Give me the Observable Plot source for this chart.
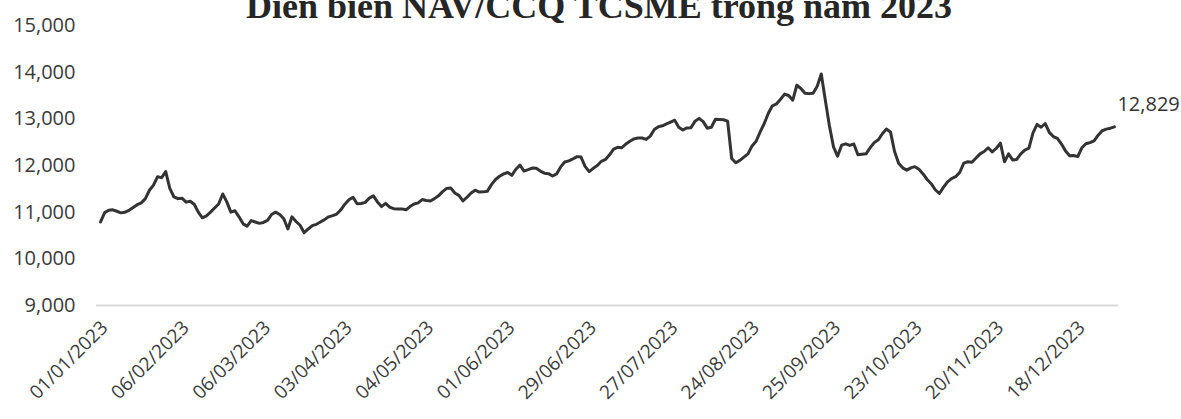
<!DOCTYPE html>
<html>
<head>
<meta charset="utf-8">
<script src="https://cdn.jsdelivr.net/npm/d3@7"></script>
<script src="https://cdn.jsdelivr.net/npm/@observablehq/plot@0.6"></script>
<style>
  body { margin: 0; background: #fff; }
  #wrap { position: relative; width: 1181px; height: 419px; overflow: hidden; background: #fff; }
  #title {
    position: absolute; left: 0; top: -12px; width: 1198px; text-align: center;
    font-family: "Liberation Serif", "Times New Roman", serif; font-weight: bold;
    font-size: 36px; line-height: 36px; color: #262626; white-space: nowrap; z-index: 2;
  }
  #chart { position: absolute; left: 0; top: 0; }
</style>
</head>
<body>
<div id="wrap">
  <div id="chart"></div>
  <div id="title">Diễn biến NAV/CCQ TCSME trong năm 2023</div>
</div>
<script>
// NAV per fund unit, one value per trading session of 2023
const navValues = [
  10790, 10990, 11040, 11050, 11020, 10985, 11000, 11040, 11100, 11160,
  11200, 11290, 11470, 11580, 11760, 11740, 11870, 11510, 11330, 11290,
  11300, 11215, 11235, 11170, 11000, 10880, 10920, 11000, 11090, 11175,
  11390, 11220, 11000, 11030, 10900, 10750, 10700, 10820, 10790, 10760,
  10780, 10825, 10950, 11000, 10950, 10860, 10640, 10900, 10800, 10720,
  10560, 10640, 10710, 10740, 10790, 10840, 10900, 10925, 10960, 11050,
  11170, 11265, 11320, 11180, 11185, 11210, 11300, 11350, 11220, 11120,
  11190, 11110, 11075, 11070, 11070, 11050, 11120, 11175, 11200, 11270,
  11250, 11240, 11290, 11350, 11440, 11510, 11520, 11410, 11360, 11240,
  11320, 11410, 11470, 11430, 11435, 11450, 11590, 11700, 11770, 11820,
  11850, 11790, 11920, 12010, 11880, 11910, 11945, 11940, 11880, 11835,
  11825, 11775, 11820, 11970, 12075, 12100, 12140, 12190, 12180, 11980,
  11870, 11940, 12000, 12090, 12130, 12230, 12350, 12390, 12380, 12460,
  12520, 12570, 12590, 12590, 12560, 12630, 12770, 12830, 12850, 12890,
  12930, 12970, 12820, 12760, 12805, 12810, 12950, 13010, 12940, 12800,
  12820, 12990, 12985, 12980, 12950, 12150, 12060, 12110, 12180, 12250,
  12420, 12520, 12720, 12900, 13120, 13280, 13320, 13420, 13530, 13500,
  13400, 13720, 13650, 13550, 13540, 13550, 13700, 13960, 13400, 12850,
  12400, 12200, 12435, 12465, 12430, 12460, 12230, 12240, 12250, 12380,
  12490, 12550, 12680, 12780, 12720, 12300, 12050, 11950, 11900, 11950,
  11975, 11920, 11820, 11700, 11610, 11480, 11400, 11530, 11650, 11720,
  11760, 11850, 12050, 12080, 12070, 12160, 12250, 12300, 12380, 12290,
  12370, 12480, 12080, 12250, 12120, 12130, 12250, 12330, 12370, 12700,
  12880, 12820, 12900, 12710, 12620, 12580, 12460, 12310, 12210, 12215,
  12190, 12380, 12465, 12490, 12530, 12650, 12745, 12780, 12800, 12829
];

// category-axis tick labels and the session index each one sits on
const xTickIndex = [0, 20, 40, 60, 80, 100, 120, 140, 160, 180, 200, 220, 240];
const xTickLabels = [
  "01/01/2023", "06/02/2023", "06/03/2023", "03/04/2023", "04/05/2023",
  "01/06/2023", "29/06/2023", "27/07/2023", "24/08/2023", "25/09/2023",
  "23/10/2023", "20/11/2023", "18/12/2023"
];
const yTicks = [9000, 10000, 11000, 12000, 13000, 14000, 15000];

const data = navValues.map((v, i) => ({ i, v }));
const last = data[data.length - 1];
const fmt = d3.format(",");

const chart = Plot.plot({
  width: 1181,
  height: 419,
  marginLeft: 96,
  marginRight: 63,
  marginTop: 25,
  marginBottom: 114,
  style: { fontFamily: "'Open Sans', sans-serif", color: "#3a3a3a", background: "transparent" },
  x: { type: "linear", domain: [-1, navValues.length] },
  y: { domain: [9000, 15000] },
  marks: [
    Plot.ruleY([9000], { stroke: "#d9d9d9", strokeWidth: 2 }),
    Plot.axisY({
      ticks: yTicks, tickSize: 0, tickPadding: 21, tickFormat: fmt,
      fontSize: 20, label: null
    }),
    Plot.axisX({
      ticks: xTickIndex, tickSize: 0, tickPadding: 19, tickRotate: -45,
      textAnchor: "end", lineAnchor: "middle", dx: 4,
      tickFormat: (d) => xTickLabels[xTickIndex.indexOf(d)],
      fontSize: 19, label: null
    }),
    Plot.line(data, {
      x: "i", y: "v", stroke: "#333333", strokeWidth: 3,
      strokeLinejoin: "round", strokeLinecap: "round"
    }),
    Plot.text([last], {
      x: "i", y: "v", text: (d) => fmt(d.v), dx: 3, dy: -22,
      textAnchor: "start", fontSize: 20, fill: "#333333"
    })
  ]
});
document.getElementById("chart").appendChild(chart);
</script>
</body>
</html>
